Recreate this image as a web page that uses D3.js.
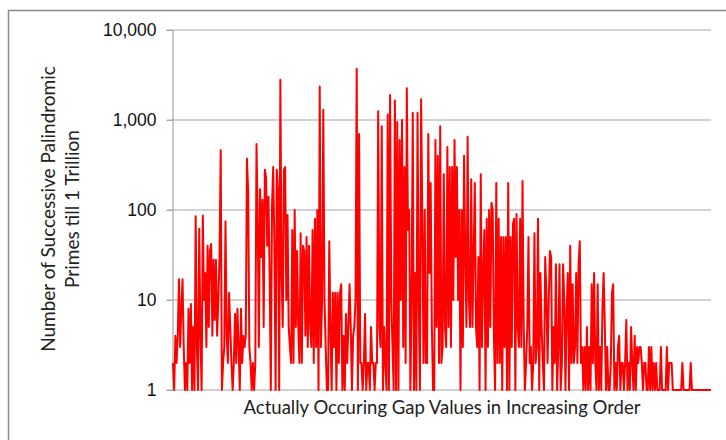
<!DOCTYPE html>
<html>
<head>
<meta charset="utf-8">
<script src="https://cdn.jsdelivr.net/npm/d3@7"></script>
<style>
  body { margin: 0; background: #fff; }
  svg { display: block; font-family: Lato, "Open Sans", sans-serif; }
</style>
</head>
<body>
<div id="chart"></div>
<script>
// number of successive palindromic prime pairs for each occurring gap
var counts = [
  2,1,4,2,4,17,3,8,17,3,1,2,1,8,2,9,1,5,1,85,3,1,62,4,1,87,10,20,3,40,5,35,42,4,28,6,28,4,10,30,460,
  1,2,3,75,4,2,12,5,2,1,2,7,2,8,3,1,8,2,4,3,4,
  370,160,3,2,1,2,1,2,540,80,3,170,30,130,5,280,230,40,140,20,1,110,300,40,1,280,170,1,2800,20,5,280,300,10,88,5,3,2,60,2,100,5,35,5,2,55,2,40,35,4,50,3,
  40,5,3,60,2,80,3,100,1,2350,3,10,1300,10,3,1,1,45,5,1,12,3,12,1,12,2,12,15,1,4,1,7,2,5,15,5,1,4,5,10,3700,1,700,2,2,1,2,7,1,2,2,1,5,2,2,1,2,
  2,1250,5,3,850,1,5,2,1,1150,1,1900,10,3,1,1650,1,950,1,600,10,1000,3,300,2,2250,60,100,1,10,1200,1,20,1,1200,10,1,1700,80,2,100,2,2,700,20,200,5,1,1,600,5,400,2,850,2,3,250,5,3,500,
  5,300,3,300,10,600,30,300,10,100,1,100,3,400,30,5,650,10,5,220,5,30,200,5,3,30,1,250,3,20,60,1,80,3,100,5,120,100,4,1,200,2,80,2,50,1,50,3,50,1,200,1,50,3,70,
  80,1,90,5,3,80,3,210,5,1,2,5,50,2,3,1,2,55,2,3,80,1,20,5,2,1,30,12,2,10,35,30,1,5,2,25,1,3,25,1,2,25,10,1,8,20,1,40,2,15,2,3,20,2,25,
  45,2,3,1,3,1,5,1,3,1,15,2,20,2,1,15,1,3,1,8,20,5,1,3,1,1,2,12,15,1,2,1,3,4,1,2,2,1,2,6,1,2,1,5,2,1,4,1,3,2,3,3,2,1,2,2,1,1,3,1,
  3,1,2,1,2,1,1,1,3,1,1,1,1,3,1,2,2,2,1,1,1,1,1,1,1,1,2,1,1,1,1,1,1,2,1,1,1,1,1,1,1,1,1,1,1,1,1,1,1,1,1
];
// gaps are only shown in rank order, no labels on the x axis
var gapRank = d3.range(counts.length);
var yTicks = [1, 10, 100, 1000, 10000];

var width = 726, height = 440;
var margin = { left: 173, right: 15, top: 30, bottom: 50 };

var svg = d3.select('#chart').append('svg')
  .attr('width', width)
  .attr('height', height);

// chart area frame
svg.append('rect')
  .attr('x', 8.5).attr('y', 10.5)
  .attr('width', 800).attr('height', 500)
  .attr('fill', 'none')
  .attr('stroke', '#8c8c8c')
  .attr('stroke-width', 1.5);

var x = d3.scaleLinear()
  .domain([0, gapRank.length - 1])
  .range([margin.left, width - margin.right]);

var y = d3.scaleLog()
  .domain([1, 10000])
  .range([height - margin.bottom, margin.top]);

// gridlines
svg.append('g')
  .selectAll('line')
  .data(yTicks)
  .enter().append('line')
  .attr('x1', margin.left - 6)
  .attr('x2', width - margin.right)
  .attr('y1', function (d) { return y(d); })
  .attr('y2', function (d) { return y(d); })
  .attr('stroke', '#a6a6a6')
  .attr('stroke-width', 1.2);

var yAxis = svg.append('g')
  .attr('transform', 'translate(' + (margin.left - 0.5) + ',0)')
  .call(d3.axisLeft(y).tickValues(yTicks).tickFormat(d3.format(',')).tickSize(6).tickPadding(10));

yAxis.select('.domain').attr('stroke', '#a6a6a6').attr('stroke-width', 1.2);
yAxis.selectAll('.tick line').attr('stroke', '#a6a6a6');
yAxis.selectAll('.tick text')
  .style('font-size', '17.5px')
  .style('fill', '#111');

var line = d3.line()
  .x(function (d, i) { return x(gapRank[i]); })
  .y(function (d) { return y(d); });

svg.append('path')
  .datum(counts)
  .attr('d', line)
  .attr('fill', 'none')
  .attr('stroke', '#ff0000')
  .attr('stroke-width', 2)
  .attr('stroke-linejoin', 'round');

// axis titles
svg.append('text')
  .attr('x', 442)
  .attr('y', 414)
  .style('text-anchor', 'middle')
  .style('font-size', '18.5px')
  .style('fill', '#222')
  .text('Actually Occuring Gap Values in Increasing Order');

var yTitle = svg.append('text')
  .attr('transform', 'translate(55,209) rotate(-90)')
  .style('text-anchor', 'middle')
  .style('font-size', '19px')
  .style('fill', '#222');

yTitle.append('tspan').attr('x', 0).attr('dy', 0).text('Number of Successive Palindromic');
yTitle.append('tspan').attr('x', 0).attr('dy', 24).text('Primes till 1 Trillion');
</script>
</body>
</html>
